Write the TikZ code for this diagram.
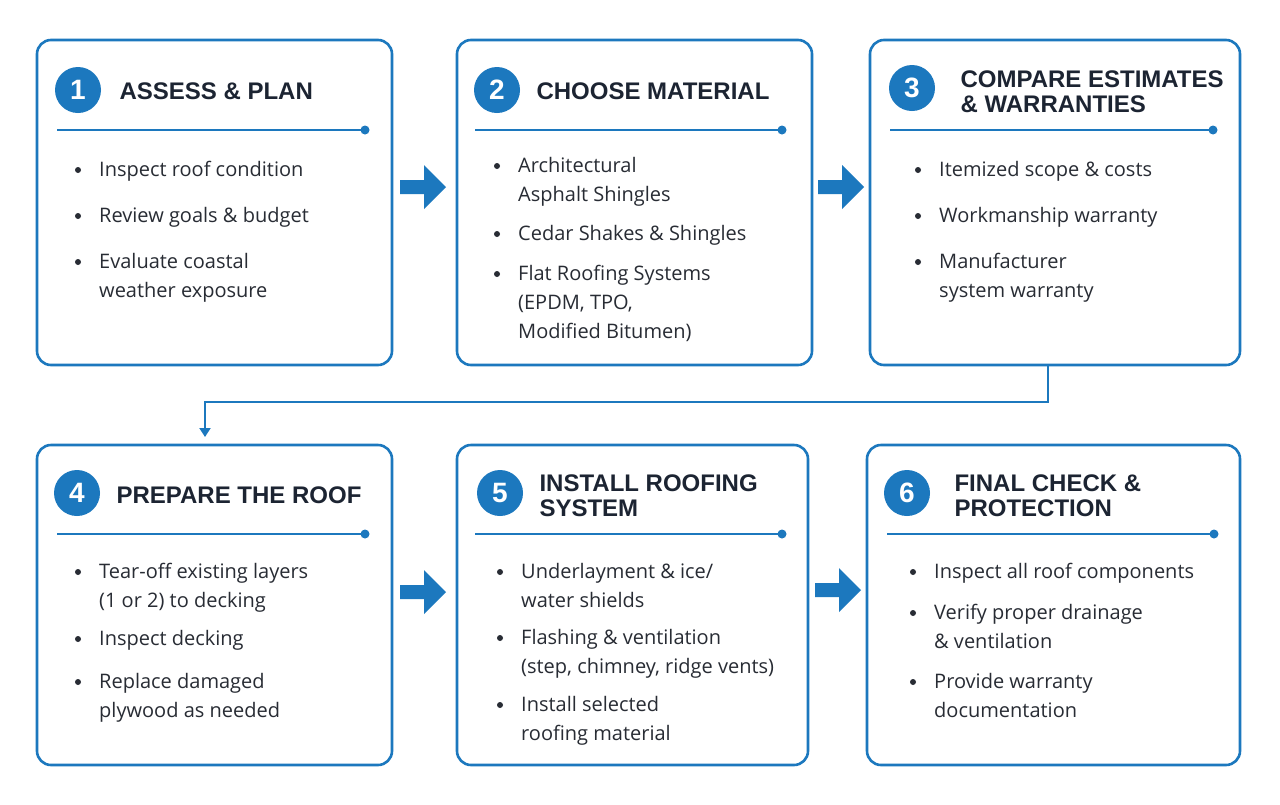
\documentclass[tikz,border=0pt]{standalone}
\usepackage{fontspec}
\setmainfont{Open Sans}
\newfontfamily\hfont{Liberation Sans}
\usetikzlibrary{arrows.meta}
\definecolor{bl}{RGB}{28,120,190}
\definecolor{nv}{RGB}{28,36,50}
\definecolor{tx}{RGB}{40,44,52}
\begin{document}
\begin{tikzpicture}[x=1pt,y=-1pt,
 box/.style={draw=bl,line width=2.6pt,rounded corners=14pt,fill=white},
 num/.style={circle,fill=bl,minimum size=46pt,inner sep=0,text=white,font=\hfont\bfseries\fontsize{28}{28}\selectfont},
 head/.style={anchor=west,align=left,text=nv,font=\hfont\bfseries\fontsize{24}{25}\selectfont},
 item/.style={anchor=north west,align=left,text=tx,inner sep=0,font=\fontsize{20}{29}\selectfont},
 dot/.style={circle,fill=tx,inner sep=0,minimum size=6pt},
 rule/.style={draw=bl,line width=1.6pt},
 bar/.style={fill=bl,circle,inner sep=0,minimum size=9pt}]
\useasboundingbox (0,0) rectangle (1280,804);
\fill[white] (0,0) rectangle (1280,804);
% boxes
\draw[box] (37,40) rectangle (392,365);
\draw[box] (457,40) rectangle (812,365);
\draw[box] (870,40) rectangle (1240,365);
\draw[box] (37,445) rectangle (392,765);
\draw[box] (457,445) rectangle (808,765);
\draw[box] (867,445) rectangle (1240,765);
% numbers + heads
\node[num] (n1) at (78,90) {1}; \node[head] (h1) at (116,91) {ASSESS \& PLAN};
\node[num] (n2) at (497,90) {2}; \node[head] (h2) at (533,91) {CHOOSE MATERIAL};
\node[num] (n3) at (912,88) {3}; \node[head] (h3) at (957,92) {COMPARE ESTIMATES\\\& WARRANTIES};
\node[num] (n4) at (77,493) {4}; \node[head] (h4) at (113,495) {PREPARE THE ROOF};
\node[num] (n5) at (500,493) {5}; \node[head] (h5) at (536,496) {INSTALL ROOFING\\SYSTEM};
\node[num] (n6) at (907,493) {6}; \node[head] (h6) at (951,496) {FINAL CHECK \&\\PROTECTION};
% rules
\foreach \a/\b/\y in {57/365/130,475/782/130,890/1213/130,57/365/534,475/782/534,887/1214/534}{
 \draw[rule] (\a,\y) -- (\b,\y); \node[bar] at (\b,\y) {};}
% bullets
\newcommand\bul[3]{\node[dot] at (#1,#2) {}; \node[item] at (#1+21,#2-9) {#3};}
\bul{78}{170}{Inspect roof condition}
\bul{78}{216}{Review goals \& budget}
\bul{78}{262}{Evaluate coastal\\weather exposure}
\bul{497}{166}{Architectural\\Asphalt Shingles}
\bul{497}{234}{Cedar Shakes \& Shingles}
\bul{497}{274}{Flat Roofing Systems\\(EPDM, TPO,\\Modified Bitumen)}
\bul{918}{170}{Itemized scope \& costs}
\bul{918}{216}{Workmanship warranty}
\bul{918}{262}{Manufacturer\\system warranty}
\bul{78}{572}{Tear-off existing layers\\(1 or 2) to decking}
\bul{78}{639}{Inspect decking}
\bul{78}{682}{Replace damaged\\plywood as needed}
\bul{500}{572}{Underlayment \& ice/\\water shields}
\bul{500}{638}{Flashing \& ventilation\\(step, chimney, ridge vents)}
\bul{500}{705}{Install selected\\roofing material}
\bul{913}{572}{Inspect all roof components}
\bul{913}{613}{Verify proper drainage\\\& ventilation}
\bul{913}{682}{Provide warranty\\documentation}
% block arrows
\foreach \x/\y in {400/187,818/187,400/592,815/590}{
 \fill[bl] (\x,\y-7) -- (\x+24,\y-7) -- (\x+24,\y-22) -- (\x+46,\y) -- (\x+24,\y+22) -- (\x+24,\y+7) -- (\x,\y+7) -- cycle;}
% connector
\coordinate (c1) at (1048,365); \coordinate (c2) at (205,437);
\draw[draw=bl,line width=2pt,-{Triangle[length=9pt,width=11pt]}] (c1) -- (1048,402) -- (205,402) -- (c2);
\end{tikzpicture}
\end{document}
